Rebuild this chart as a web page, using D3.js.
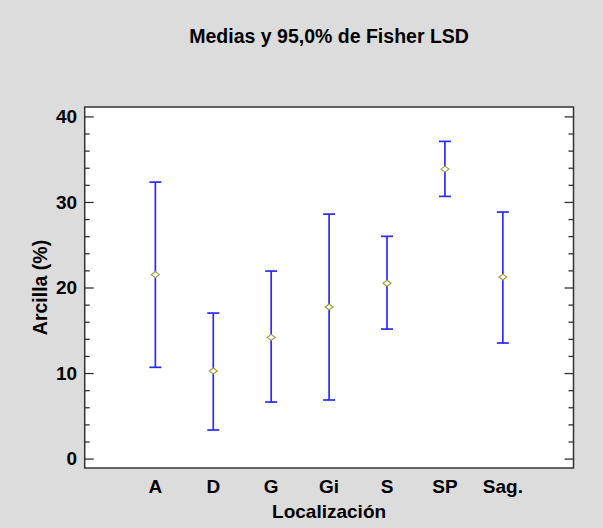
<!DOCTYPE html>
<html>
<head>
<meta charset="utf-8">
<script src="https://cdn.jsdelivr.net/npm/d3@7"></script>
<style>
  html, body { margin: 0; padding: 0; background: #dcdcdc; }
  svg { display: block; }
  text { font-family: "Liberation Sans", Arial, sans-serif; font-weight: bold; fill: #000; }
</style>
</head>
<body>
<svg id="chart" width="603" height="528"></svg>
<script>
// Fisher LSD intervals for clay content (%) by location
const categories = ["A", "D", "G", "Gi", "S", "SP", "Sag."];
const means      = [21.50, 10.24, 14.17, 17.72, 20.49, 33.84, 21.22];
const lower      = [10.67, 3.34, 6.61, 6.85, 15.14, 30.65, 13.51];
const upper      = [32.32, 17.01, 21.92, 28.58, 25.98, 37.08, 28.82];
const yMajorTicks = [0, 10, 20, 30, 40];
const yMinorTicks = [2, 4, 6, 8, 12, 14, 16, 18, 22, 24, 26, 28, 32, 34, 36, 38];

const title = "Medias y 95,0% de Fisher LSD";
const xTitle = "Localización";
const yTitle = "Arcilla (%)";

const svg = d3.select("#chart");
const plot = { left: 84.7, right: 573.5, top: 107, bottom: 468 };

const x = d3.scalePoint()
  .domain(categories)
  .range([plot.left, plot.right])
  .padding(1.22);

const y = d3.scaleLinear()
  .domain([-1.1, 41.1])
  .range([plot.bottom, plot.top]);

// plot area
svg.append("rect")
  .attr("x", plot.left).attr("y", plot.top)
  .attr("width", plot.right - plot.left)
  .attr("height", plot.bottom - plot.top)
  .attr("fill", "#ffffff");

// inward ticks on both vertical sides
const leftMajor = d3.axisRight(y).tickValues(yMajorTicks).tickSize(9).tickFormat("");
const leftMinor = d3.axisRight(y).tickValues(yMinorTicks).tickSize(5).tickFormat("");
const rightMajor = d3.axisLeft(y).tickValues(yMajorTicks).tickSize(9).tickFormat("");
const rightMinor = d3.axisLeft(y).tickValues(yMinorTicks).tickSize(5).tickFormat("");

function styleAxis(g) {
  g.select(".domain").remove();
  g.selectAll(".tick line").attr("stroke", "#333").attr("stroke-width", 1.3);
}
svg.append("g").attr("transform", `translate(${plot.left},0)`).call(leftMajor).call(styleAxis);
svg.append("g").attr("transform", `translate(${plot.left},0)`).call(leftMinor).call(styleAxis);
svg.append("g").attr("transform", `translate(${plot.right},0)`).call(rightMajor).call(styleAxis);
svg.append("g").attr("transform", `translate(${plot.right},0)`).call(rightMinor).call(styleAxis);

// y tick labels
svg.append("g").selectAll("text")
  .data(yMajorTicks)
  .join("text")
  .attr("x", plot.left - 7.5)
  .attr("y", d => y(d))
  .attr("dy", "0.35em")
  .attr("text-anchor", "end")
  .attr("font-size", 19)
  .text(d => d);

// category labels
svg.append("g").selectAll("text")
  .data(categories)
  .join("text")
  .attr("x", d => x(d))
  .attr("y", 493)
  .attr("text-anchor", "middle")
  .attr("font-size", 19)
  .text(d => d);

// frame
svg.append("rect")
  .attr("x", plot.left).attr("y", plot.top)
  .attr("width", plot.right - plot.left)
  .attr("height", plot.bottom - plot.top)
  .attr("fill", "none")
  .attr("stroke", "#333")
  .attr("stroke-width", 1.5);

// interval bars
const bars = svg.append("g");
const capHalf = 6;
categories.forEach((c, i) => {
  const g = bars.append("g").attr("stroke", "#2a2aff").attr("stroke-width", 1.7);
  g.append("line")
    .attr("x1", x(c)).attr("x2", x(c))
    .attr("y1", y(lower[i])).attr("y2", y(upper[i]));
  g.append("line")
    .attr("x1", x(c) - capHalf).attr("x2", x(c) + capHalf)
    .attr("y1", y(upper[i])).attr("y2", y(upper[i]));
  g.append("line")
    .attr("x1", x(c) - capHalf).attr("x2", x(c) + capHalf)
    .attr("y1", y(lower[i])).attr("y2", y(lower[i]));
});

// mean markers
svg.append("g").selectAll("path")
  .data(categories)
  .join("path")
  .attr("d", (c, i) => {
    const cx = x(c), cy = y(means[i]);
    return `M${cx - 4},${cy} L${cx},${cy - 3} L${cx + 4},${cy} L${cx},${cy + 3} Z`;
  })
  .attr("fill", "#ffffff")
  .attr("stroke", "#a09a3a")
  .attr("stroke-width", 1.1);

// titles
svg.append("text")
  .attr("x", (plot.left + plot.right) / 2)
  .attr("y", 43)
  .attr("text-anchor", "middle")
  .attr("font-size", 19.5)
  .text(title);

svg.append("text")
  .attr("x", (plot.left + plot.right) / 2)
  .attr("y", 518)
  .attr("text-anchor", "middle")
  .attr("font-size", 19)
  .text(xTitle);

svg.append("text")
  .attr("transform", `translate(46.5, ${(plot.top + plot.bottom) / 2}) rotate(-90)`)
  .attr("text-anchor", "middle")
  .attr("font-size", 19.5)
  .text(yTitle);
</script>
</body>
</html>
